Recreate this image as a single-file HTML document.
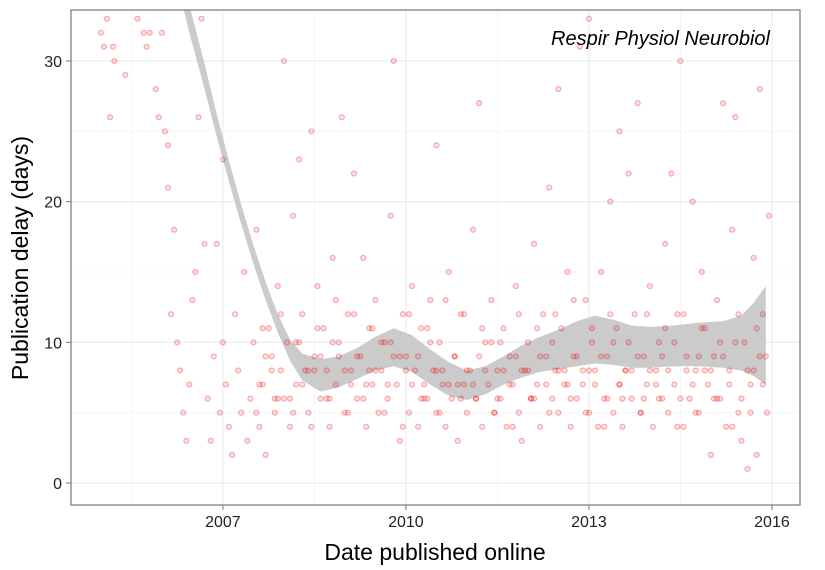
<!DOCTYPE html>
<html><head><meta charset="utf-8"><style>
html,body{margin:0;padding:0;background:#fff;width:825px;height:570px;overflow:hidden}
svg text{font-family:"Liberation Sans",sans-serif}
</style></head><body>
<svg id="chart" width="825" height="570">
<defs><clipPath id="clip"><rect x="71" y="10" width="729" height="495"/></clipPath></defs>
<rect x="71" y="10" width="729" height="495" fill="#fff"/>
<g id="grid"></g>
<g id="band" clip-path="url(#clip)"></g>
<g id="pts" clip-path="url(#clip)"></g>
<rect x="71" y="10" width="729" height="495" fill="none" stroke="#7f7f7f" stroke-width="1.3"/>
<g id="axes"></g>
<text x="770" y="45" text-anchor="end" font-size="20" font-style="italic" fill="#000">Respir Physiol Neurobiol</text>
<text x="435" y="560" text-anchor="middle" font-size="23" fill="#000">Date published online</text>
<text transform="translate(28,258) rotate(-90)" text-anchor="middle" font-size="23" fill="#000">Publication delay (days)</text>
</svg>
<script>
const xTicks=[2007,2010,2013,2016];
const yTicks=[0,10,20,30];
const bandX=[2006.2,2006.45,2006.7,2006.9,2007.1,2007.3,2007.5,2007.7,2007.9,2008.1,2008.3,2008.6,2008.9,2009.2,2009.5,2009.8,2010.1,2010.4,2010.7,2011.0,2011.3,2011.6,2011.9,2012.2,2012.5,2012.8,2013.1,2013.4,2013.7,2014.0,2014.4,2014.8,2015.2,2015.5,2015.7,2015.9];
const bandLo=[36.5,32,28,24.6,21.4,18.4,15.6,13.0,10.7,8.7,7.3,6.5,6.8,7.4,8.0,8.3,7.9,7.0,6.2,5.9,6.3,7.0,7.5,7.9,8.1,8.3,8.5,8.4,8.2,8.2,8.3,8.3,8.2,8.0,7.6,7.0];
const bandHi=[38.5,34,29.8,26.2,22.9,19.8,16.9,14.3,12.0,10.2,9.2,8.8,9.0,9.6,10.4,11.0,10.5,9.5,8.6,8.0,8.3,9.0,9.8,10.4,10.9,11.5,11.9,11.6,11.2,11.1,11.2,11.4,11.5,11.9,12.8,14.0];
const dates=[2005.0,2005.05,2005.1,2005.15,2005.2,2005.22,2005.4,2005.6,2005.7,2005.75,2005.8,2005.9,2005.95,2006.0,2006.05,2006.1,2006.1,2006.15,2006.2,2006.25,2006.3,2006.35,2006.4,2006.45,2006.5,2006.55,2006.6,2006.65,2006.7,2006.75,2006.8,2006.85,2006.9,2006.95,2007.0,2007.0,2007.05,2007.1,2007.15,2007.2,2007.25,2007.3,2007.35,2007.4,2007.45,2007.5,2007.55,2007.6,2007.65,2007.7,2007.75,2007.8,2007.85,2007.9,2007.95,2008.0,2008.0,2008.05,2008.1,2008.15,2008.2,2008.25,2008.3,2008.35,2008.4,2008.45,2008.5,2008.55,2008.6,2008.65,2008.7,2008.75,2008.8,2008.85,2008.9,2008.95,2009.0,2009.05,2009.1,2009.15,2009.2,2009.25,2009.3,2009.35,2009.4,2009.45,2009.5,2009.55,2009.6,2009.65,2009.7,2009.75,2009.8,2009.85,2009.9,2009.95,2010.0,2010.05,2010.1,2010.15,2010.2,2010.25,2010.3,2010.35,2010.4,2010.45,2010.5,2010.5,2010.55,2010.6,2010.65,2010.7,2010.75,2010.8,2010.85,2010.9,2010.95,2011.0,2011.05,2011.1,2011.15,2011.2,2011.25,2011.3,2011.35,2011.4,2011.45,2011.5,2011.55,2011.6,2011.65,2011.7,2011.75,2011.8,2011.85,2011.9,2011.95,2012.0,2012.05,2012.1,2012.15,2012.2,2012.25,2012.3,2012.35,2012.4,2012.45,2012.5,2012.5,2012.55,2012.6,2012.65,2012.7,2012.75,2012.8,2012.85,2012.9,2012.95,2013.0,2013.0,2013.05,2013.1,2013.15,2013.2,2013.25,2013.3,2013.35,2013.4,2013.45,2013.5,2013.5,2013.55,2013.6,2013.65,2013.7,2013.75,2013.8,2013.85,2013.9,2013.95,2014.0,2014.05,2014.1,2014.15,2014.2,2014.25,2014.3,2014.35,2014.4,2014.45,2014.5,2014.55,2014.6,2014.65,2014.7,2014.75,2014.8,2014.85,2014.9,2014.95,2015.0,2015.05,2015.1,2015.15,2015.2,2015.25,2015.3,2015.35,2015.4,2015.45,2015.5,2015.55,2015.6,2015.65,2015.7,2015.75,2015.8,2015.85,2015.9,2015.95,2015.92,
2007.6,2007.8,2008.1,2008.3,2008.5,2008.7,2008.9,2009.1,2009.3,2009.5,2009.7,2009.9,2010.1,2010.3,2010.5,2010.7,2010.9,2011.1,2011.3,2011.5,2011.7,2011.9,2012.1,2012.3,2012.5,2012.7,2012.9,2013.1,2013.3,2013.5,2013.7,2013.9,2014.1,2014.3,2014.5,2014.7,2014.9,2015.1,2015.3,2015.5,2015.7,2015.85,
2007.7,2007.9,2008.2,2008.4,2008.6,2008.8,2009.0,2009.2,2009.4,2009.6,2009.8,2010.0,2010.2,2010.4,2010.6,2010.8,2011.0,2011.2,2011.4,2011.6,2011.8,2012.0,2012.2,2012.4,2012.6,2012.8,2013.0,2013.2,2013.4,2013.6,2013.8,2014.0,2014.2,2014.4,2014.6,2014.8,2015.0,2015.2,2015.4,2015.6,2015.8,
2007.55,2007.85,2008.15,2008.45,2008.75,2009.05,2009.35,2009.65,2009.95,2010.25,2010.55,2010.85,2011.15,2011.45,2011.75,2012.05,2012.35,2012.65,2012.95,2013.25,2013.55,2013.85,2014.15,2014.45,2014.75,2015.05,2015.35,2015.65,
2007.65,2007.95,2008.25,2008.55,2008.85,2009.15,2009.45,2009.75,2010.05,2010.35,2010.65,2010.95,2011.25,2011.55,2011.85,2012.15,2012.45,2012.75,2013.05,2013.35,2013.65,2013.95,2014.25,2014.55,2014.85,2015.15,2015.45,2015.75];
const delays=[32,31,33,26,31,30,29,33,32,31,32,28,26,32,25,24,21,12,18,10,8,5,3,7,13,15,26,33,17,6,3,9,17,5,23,10,7,4,2,12,8,5,15,3,6,10,18,4,7,2,11,9,5,14,8,30,6,10,4,19,7,23,12,8,5,25,9,14,6,11,8,4,16,7,10,26,5,12,8,22,6,9,16,4,11,7,13,5,8,10,6,19,30,7,3,12,9,5,14,8,4,11,7,6,13,8,24,5,10,7,4,15,6,9,3,12,7,5,8,18,6,27,4,10,7,13,5,8,6,11,4,9,7,14,5,3,8,10,6,17,7,4,12,9,21,6,8,28,5,11,7,15,4,9,6,31,8,13,33,5,10,7,4,15,6,9,20,5,11,25,7,4,8,22,6,12,27,5,9,7,14,4,8,10,6,17,5,22,7,12,30,4,9,6,20,8,5,15,11,7,2,9,13,6,27,4,8,18,26,5,3,10,1,7,16,2,28,12,9,19,5,
7,8,6,7,8,6,9,7,6,8,7,9,7,6,8,7,6,7,8,6,7,8,6,7,8,6,7,8,6,7,8,6,7,8,6,7,8,6,7,6,8,7,
9,6,10,8,9,10,8,9,8,10,9,8,9,10,8,9,8,9,10,8,9,8,9,10,8,9,8,9,10,8,9,8,9,10,8,9,8,9,10,8,9,
5,6,5,4,6,5,7,5,4,6,5,7,6,5,4,6,5,7,5,4,6,5,6,4,5,6,4,5,
11,12,10,11,13,12,11,10,12,11,13,12,11,10,12,11,12,13,11,12,10,12,11,12,11,10,12,11];
const X0=71,X1=800,XMIN=2004.51,XMAX=2016.46;
const Y0=505,Y1=10,YMIN=-1.56,YMAX=33.62;
const sx=v=>X0+(v-XMIN)/(XMAX-XMIN)*(X1-X0);
const sy=v=>Y0-(v-YMIN)/(YMAX-YMIN)*(Y0-Y1);
const NS='http://www.w3.org/2000/svg';
function mk(tag,attrs,parent){const e=document.createElementNS(NS,tag);for(const k in attrs)e.setAttribute(k,attrs[k]);parent.appendChild(e);return e;}
const grid=document.getElementById('grid'),axes=document.getElementById('axes');
[2005.5,2008.5,2011.5,2014.5].forEach(v=>{const l=mk('line',{x1:sx(v),x2:sx(v),y1:Y1,y2:Y0,stroke:'#f3f3f3','stroke-width':0.8},grid);

});
[5,15,25].forEach(v=>{const l=mk('line',{x1:X0,x2:X1,y1:sy(v),y2:sy(v),stroke:'#f3f3f3','stroke-width':0.8},grid);

});
xTicks.forEach(v=>{const l=mk('line',{x1:sx(v),x2:sx(v),y1:Y1,y2:Y0,stroke:'#ebebeb','stroke-width':1.1},grid);


const t=mk('line',{x1:sx(v),x2:sx(v),y1:Y0,y2:Y0+5,stroke:'#7f7f7f','stroke-width':1.1},axes);


const tx=mk('text',{x:sx(v),y:Y0+22,'text-anchor':'middle','font-size':16,fill:'#222'},axes);tx.textContent=v;

});
yTicks.forEach(v=>{const l=mk('line',{x1:X0,x2:X1,y1:sy(v),y2:sy(v),stroke:'#ebebeb','stroke-width':1.1},grid);


const t=mk('line',{x1:X0-5,x2:X0,y1:sy(v),y2:sy(v),stroke:'#7f7f7f','stroke-width':1.1},axes);


const tx=mk('text',{x:X0-9,y:sy(v)+6,'text-anchor':'end','font-size':16,fill:'#222'},axes);tx.textContent=v;

});
let d='';bandX.forEach((v,i)=>{d+=(i?'L':'M')+sx(v).toFixed(1)+','+sy(bandHi[i]).toFixed(1);});
for(let i=bandX.length-1;i>=0;i--)d+='L'+sx(bandX[i]).toFixed(1)+','+sy(bandLo[i]).toFixed(1);
const band=mk('path',{d:d+'Z',fill:'#cbcbcb'},document.getElementById('band'));


const pts=document.getElementById('pts');
dates.forEach((v,i)=>{const c=mk('circle',{cx:sx(v),cy:sy(Math.min(delays[i],33)),r:2.5,fill:'rgba(255,0,0,0.12)',stroke:'rgba(230,0,0,0.3)','stroke-width':1.2},pts);

});
</script>
</body></html>
